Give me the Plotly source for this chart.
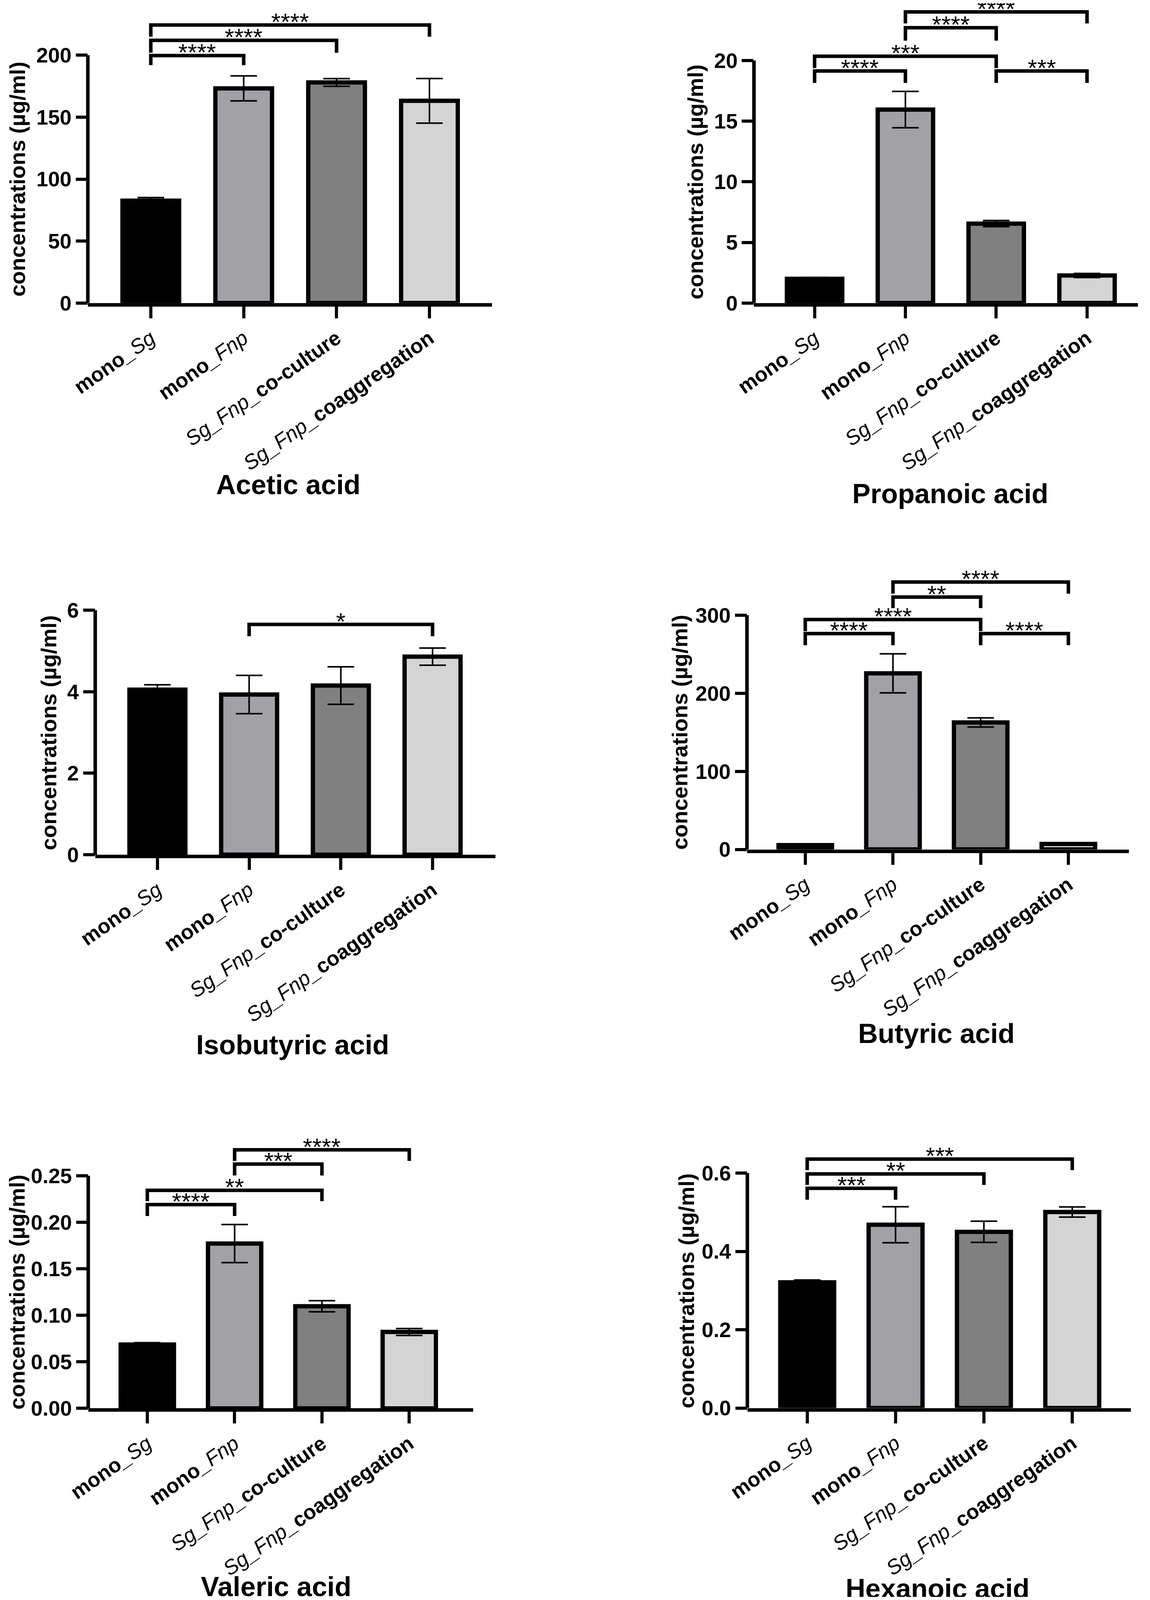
import plotly.graph_objects as go

# reference page size; all placement below is given in these pixels and
# turned into paper fractions, so the figure can fill whatever window it gets
W, H = 2943, 4836
FONT = "Liberation Sans, Arial, Helvetica, sans-serif"

groups = ['<b>mono</b><i>_Sg</i>', '<b>mono</b><i>_Fnp</i>',
          '<i>Sg_Fnp_</i><b>co-culture</b>', '<i>Sg_Fnp_</i><b>coaggregation</b>']
bar_colors = ['#000000', '#a1a1a6', '#808080', '#d4d4d4']

# mean and error values
acetic = [82.6, 173.2, 178.0, 163.2]
acetic_sd = [2.5, 10.1, 3.1, 18.0]
acetic_ticks = [0, 50, 100, 150, 200]
acetic_sig = [(0, 1, 199.7, 192.0, '****'), (0, 2, 212.0, 202.0, '****'),
              (0, 3, 224.4, 214.9, '****')]

propanoic = [2.0, 15.95, 6.55, 2.27]
propanoic_sd = [0.1, 1.5, 0.25, 0.17]
propanoic_ticks = [0, 5, 10, 15, 20]
propanoic_sig = [(0, 1, 19.13, 18.15, '****'), (2, 3, 19.13, 18.15, '***'),
                 (0, 2, 20.35, 19.37, '***'), (1, 2, 22.7, 21.64, '****'),
                 (1, 3, 24.0, 23.05, '****')]

isobutyric = [4.05, 3.93, 4.15, 4.86]
isobutyric_sd = [0.12, 0.47, 0.46, 0.21]
isobutyric_ticks = [0, 2, 4, 6]
isobutyric_sig = [(1, 3, 5.65, 5.36, '*')]

butyric = [5.5, 225.5, 162.6, 7.0]
butyric_sd = [1.2, 25.0, 5.9, 1.3]
butyric_ticks = [0, 100, 200, 300]
butyric_sig = [(0, 1, 276.4, 261.5, '****'), (2, 3, 276.4, 261.5, '****'),
               (0, 2, 294.4, 279.5, '****'), (1, 2, 323.1, 309.0, '**'),
               (1, 3, 342.4, 327.5, '****')]

valeric = [0.0686, 0.1771, 0.1097, 0.0821]
valeric_sd = [0.002, 0.0205, 0.006, 0.0037]
valeric_ticks = [0, 0.05, 0.10, 0.15, 0.20, 0.25]
valeric_sig = [(0, 1, 0.219, 0.2067, '****'), (0, 2, 0.2343, 0.2226, '**'),
               (1, 2, 0.2625, 0.2502, '***'), (1, 3, 0.2778, 0.2659, '****')]

hexanoic = [0.321, 0.468, 0.450, 0.5005]
hexanoic_sd = [0.006, 0.046, 0.027, 0.013]
hexanoic_ticks = [0, 0.2, 0.4, 0.6]
hexanoic_sig = [(0, 1, 0.5612, 0.532, '***'), (0, 2, 0.5977, 0.5695, '**'),
                (0, 3, 0.6356, 0.6074, '***')]

# panel placement in reference pixels: spine x, axis end x, first/last bar centre,
# y of zero, y of top tick, top of panel area, title centre, y-title x
panels = [
    dict(name='Acetic acid', mean=acetic, sd=acetic_sd, ticks=acetic_ticks, fmt='{:g}',
         sig=acetic_sig, left=218, right=1258, c0=380, c3=1097, y0=910, ytop=158, top=0,
         title=(734, 1462), ytx=37),
    dict(name='Propanoic acid', mean=propanoic, sd=propanoic_sd, ticks=propanoic_ticks, fmt='{:g}',
         sig=propanoic_sig, left=1932, right=2920, c0=2088, c3=2789, y0=910, ytop=174, top=0,
         title=(2437, 1489), ytx=1781),
    dict(name='Isobutyric acid', mean=isobutyric, sd=isobutyric_sd, ticks=isobutyric_ticks, fmt='{:g}',
         sig=isobutyric_sig, left=237, right=1267, c0=397, c3=1105, y0=2584, ytop=1842, top=1680,
         title=(745, 3161), ytx=117),
    dict(name='Butyric acid', mean=butyric, sd=butyric_sd, ticks=butyric_ticks, fmt='{:g}',
         sig=butyric_sig, left=1914, right=2897, c0=2064, c3=2741, y0=2568, ytop=1857, top=1680,
         title=(2402, 3127), ytx=1741),
    dict(name='Valeric acid', mean=valeric, sd=valeric_sd, ticks=valeric_ticks, fmt='{:.2f}',
         sig=valeric_sig, left=219, right=1210, c0=371, c3=1045, y0=4264, ytop=3558, top=3380,
         title=(702, 4805), ytx=36),
    dict(name='Hexanoic acid', mean=hexanoic, sd=hexanoic_sd, ticks=hexanoic_ticks, fmt='{:.1f}',
         sig=hexanoic_sig, left=1915, right=2902, c0=2069, c3=2751, y0=4263, ytop=3550, top=3380,
         title=(2405, 4811), ytx=1758),
]

fig = go.Figure()
annotations = []
shapes = []

for n, p in enumerate(panels, start=1):
    sfx = '' if n == 1 else str(n)
    xa, ya = 'x' + sfx, 'y' + sfx
    top_tick = p['ticks'][-1]
    step = (p['c3'] - p['c0']) / 3
    ppu = (p['y0'] - p['ytop']) / top_tick
    xrange = [(p['left'] - p['c0']) / step, (p['right'] - p['c0']) / step]
    yrange = [0, (p['y0'] - p['top']) / ppu]

    fig.add_trace(go.Bar(
        x=[0, 1, 2, 3], y=p['mean'], width=0.61, xaxis=xa, yaxis=ya,
        marker=dict(color=bar_colors, line=dict(color='black', width=11)),
        error_y=dict(type='data', array=p['sd'], color='black', thickness=4, width=34),
        showlegend=False, hoverinfo='skip'))

    bx, by = [], []
    for i, j, yl, yleg, lab in p['sig']:
        bx += [i, i, j, j, None]
        by += [yleg, yl, yl, yleg, None]
        annotations.append(dict(x=(i + j) / 2, y=yl, xref=xa, yref=ya, text=lab,
                                showarrow=False, yanchor='bottom', yshift=-28,
                                font=dict(family=FONT, size=62, color='black')))
    fig.add_trace(go.Scatter(x=bx, y=by, xaxis=xa, yaxis=ya, mode='lines',
                             line=dict(color='black', width=9),
                             showlegend=False, hoverinfo='skip'))

    fig.update_layout({
        'xaxis' + sfx: dict(domain=[p['left'] / W, p['right'] / W], range=xrange,
                            anchor=ya, tickvals=[0, 1, 2, 3], ticktext=groups,
                            tickangle=-35, ticks='outside', ticklen=30, tickwidth=8,
                            tickcolor='black', showline=True, linewidth=9, linecolor='black',
                            showgrid=False, zeroline=False, automargin=False,
                            tickfont=dict(family=FONT, size=53, color='black')),
        'yaxis' + sfx: dict(domain=[(H - p['y0']) / H, (H - p['top']) / H], range=yrange,
                            anchor=xa, tickvals=p['ticks'],
                            ticktext=[p['fmt'].format(t) for t in p['ticks']],
                            ticks='outside', ticklen=30, tickwidth=8, tickcolor='black',
                            showline=False, showgrid=False, zeroline=False, automargin=False,
                            tickfont=dict(family=FONT, size=54, color='black', weight='bold')),
    })

    # y spine only up to the top tick
    shapes.append(dict(type='line', xref='paper', yref=ya, x0=p['left'] / W, x1=p['left'] / W,
                       y0=0, y1=top_tick, line=dict(color='black', width=9)))

    annotations.append(dict(x=p['ytx'] / W, y=1 - (p['y0'] + p['ytop']) / 2 / H,
                            xref='paper', yref='paper', text='<b>concentrations (µg/ml)</b>',
                            textangle=-90, showarrow=False, xanchor='center', yanchor='middle',
                            font=dict(family=FONT, size=56, color='black')))
    annotations.append(dict(x=p['title'][0] / W, y=1 - p['title'][1] / H,
                            xref='paper', yref='paper', text='<b>%s</b>' % p['name'],
                            showarrow=False, xanchor='center', yanchor='middle',
                            font=dict(family=FONT, size=70, color='black')))

fig.update_layout(margin=dict(l=0, r=0, t=0, b=0, pad=0, autoexpand=False),
                  paper_bgcolor='white', plot_bgcolor='white',
                  showlegend=False, annotations=annotations, shapes=shapes)

fig.write_html("out.html", default_width='100%', default_height='calc(100vh - 16px)')
